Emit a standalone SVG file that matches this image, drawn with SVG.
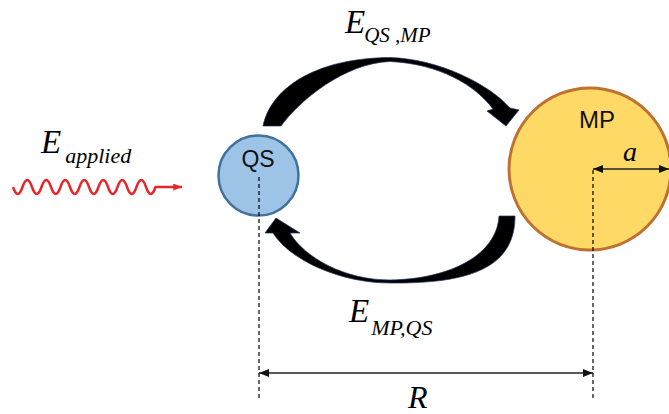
<svg xmlns="http://www.w3.org/2000/svg" width="669" height="414" viewBox="0 0 669 414">
  <style>
    .node-label { font-family: "Liberation Sans", "Open Sans", Arial, sans-serif; font-size: 22px; fill: #111; text-anchor: middle; }
    .math { font-family: "Liberation Serif", "DejaVu Serif", "Times New Roman", serif; font-style: italic; fill: #000; }
    .big { font-size: 33px; }
    .sub { font-size: 22px; }
    .dash { stroke: #000; stroke-width: 1.2; stroke-dasharray: 4 3; fill: none; }
    .dim { stroke: #222; stroke-width: 1.5; fill: none; marker-start: url(#arrowDim); marker-end: url(#arrowDim); }
    .flow { fill: #000; stroke: #1F3864; stroke-width: 0.7; stroke-linejoin: round; }
  </style>
  <defs>
    <marker id="arrowDim" viewBox="0 0 10 8" refX="10" refY="4" markerUnits="userSpaceOnUse" markerWidth="10" markerHeight="8" orient="auto-start-reverse">
      <path d="M0,0 L10,4 L0,8 z" fill="#111"/>
    </marker>
    <marker id="arrowRed" viewBox="0 0 10 8" refX="10" refY="4" markerUnits="userSpaceOnUse" markerWidth="9" markerHeight="7" orient="auto">
      <path d="M0,0 L10,4 L0,8 z" fill="#E8262A"/>
    </marker>
  </defs>

  <rect width="669" height="414" fill="#fff"/>

  <!-- Nodes -->
  <g id="node-mp">
    <circle cx="590" cy="169" r="81" fill="#FFD966" stroke="#BF7130" stroke-width="3"/>
    <text class="node-label" x="597" y="128" style="font-size:24px">MP</text>
  </g>
  <g id="node-qs">
    <circle cx="258.5" cy="175.5" r="40" fill="#9DC3E6" stroke="#41719C" stroke-width="2.5"/>
    <text class="node-label" x="258" y="167" style="font-size:23px">QS</text>
  </g>

  <!-- Connectors -->
  <g id="connectors">
    <!-- E_QS,MP curved arrow (top) -->
    <path class="flow" d="M263,126 C272,85 320,58 390,57.5 C440,59 490,85 510,108 L519,110 L506,126 L487,111 L493,109 C475,85 440,64 390,61.5 C345,63 300,100 281,126 Z"/>
    <!-- E_MP,QS curved arrow (bottom) -->
    <path class="flow" d="M499,216 L515,216 C515,265 475,284 390,283 C340,283 290,260 273,233 L265,233 L276,218 L300,233 L290,233 C305,258 345,280 390,280 C450,279 497,255 499,216 Z"/>
    <!-- applied field wave -->
    <path d="M13,187 Q17.75,201 22.5,187 T32,187 T41.5,187 T51,187 T60.5,187 T70,187 T79.5,187 T89,187 T98.5,187 T108,187 T117.5,187 T127,187 T136.5,187 T146,187 T155.5,187 L182,187" fill="none" stroke="#E8262A" stroke-width="2.5" stroke-linejoin="round" marker-end="url(#arrowRed)"/>
    <!-- dashed reference lines -->
    <line class="dash" x1="259" y1="177" x2="259" y2="400"/>
    <line class="dash" x1="593" y1="170" x2="593" y2="400"/>
    <!-- dimension R -->
    <line class="dim" x1="259" y1="373" x2="593" y2="373"/>
    <!-- dimension a -->
    <line class="dim" x1="593" y1="169" x2="669" y2="169"/>
  </g>

  <!-- Labels -->
  <g id="labels">
    <text class="math" font-family="Liberation Serif, DejaVu Serif, serif" font-style="italic" x="345" y="33"><tspan class="big">E</tspan><tspan class="sub" dx="-1" dy="9" style="font-size:21px">QS ,MP</tspan></text>
    <text class="math" font-family="Liberation Serif, DejaVu Serif, serif" font-style="italic" x="349" y="322"><tspan class="big">E</tspan><tspan class="sub" dx="2" dy="13">MP,QS</tspan></text>
    <text class="math" font-family="Liberation Serif, DejaVu Serif, serif" font-style="italic" x="41" y="153"><tspan class="big">E</tspan><tspan class="sub" dx="4" dy="10">applied</tspan></text>
    <text class="math" font-family="Liberation Serif, DejaVu Serif, serif" font-style="italic" x="623" y="161" style="font-size:28px">a</text>
    <text class="math" font-family="Liberation Serif, DejaVu Serif, serif" font-style="italic" x="408" y="408" style="font-size:32px">R</text>
  </g>
</svg>
